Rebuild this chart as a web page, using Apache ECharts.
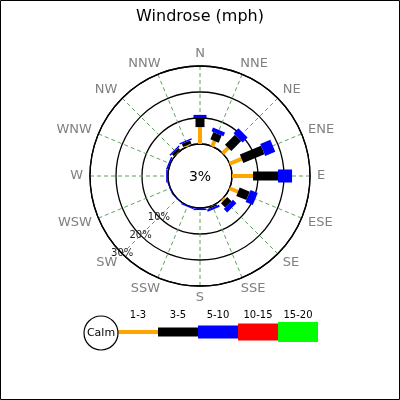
<!DOCTYPE html>
<html>
<head>
<meta charset="utf-8">
<script src="https://cdn.jsdelivr.net/npm/echarts@6/dist/echarts.min.js"></script>
<style>
  html, body { margin: 0; padding: 0; background: #fff; }
  #chart { width: 400px; height: 400px; }
</style>
</head>
<body>
<div id="chart"></div>
<script>
// wind directions, clockwise from north
const dirs = ["N", "NNE", "NE", "ENE", "E", "ESE", "SE", "SSE",
              "S", "SSW", "SW", "WSW", "W", "WNW", "NW", "NNW"];
// speed bins (mph)
const bins = ["1-3", "3-5", "5-10", "10-15", "15-20"];
// percent of time per direction, per speed bin
const pct1_3   = [6.5, 2.3, 3.0, 5.0, 8.1, 3.5, 0.8, 0.2, 0.0, 0.0, 0.0, 0.0, 0.0, 0.0, 0.2, 0.5];
const pct3_5   = [3.5, 3.0, 5.4, 8.8, 9.6, 4.2, 2.3, 0.5, 0.2, 0.0, 0.0, 0.0, 0.1, 0.2, 1.0, 1.3];
const pct5_10  = [1.2, 1.5, 2.7, 4.2, 5.4, 3.0, 1.9, 0.8, 0.6, 0.5, 0.2, 0.3, 0.6, 0.6, 0.6, 0.6];
const pct10_15 = [0, 0, 0, 0, 0, 0, 0, 0, 0, 0, 0, 0, 0, 0, 0, 0];
const pct15_20 = [0, 0, 0, 0, 0, 0, 0, 0, 0, 0, 0, 0, 0, 0, 0, 0];
const calmPct = 3;
const radiusTicks = [10, 20, 30];

const binData = [pct1_3, pct3_5, pct5_10, pct10_15, pct15_20];
const binColors = ["#FFA500", "#000000", "#0000FF", "#FF0000", "#00FF00"];
const binWidths = [4, 9, 13, 17, 20];
const font = "DejaVu Sans";
const rMax = 30;

const chart = echarts.init(document.getElementById("chart"));

// stacked segments: [end, angle, start]
const cum = dirs.map(() => 0);
const series = binData.map((vals, k) => {
  const data = vals.map((v, i) => {
    const start = cum[i];
    cum[i] += v;
    return [cum[i], i * 360 / dirs.length, start];
  });
  return {
    name: bins[k],
    type: "custom",
    coordinateSystem: "polar",
    polarIndex: 0,
    encode: { radius: 0, angle: 1 },
    data: data,
    renderItem: function (params, api) {
      const r1 = api.value(0), ang = api.value(1), r0 = api.value(2);
      if (r1 - r0 <= 0) return;
      const a = api.coord([r0, ang]);
      const b = api.coord([r1, ang]);
      const dx = b[0] - a[0], dy = b[1] - a[1];
      const len = Math.hypot(dx, dy);
      const w = binWidths[k] / 2;
      const nx = -dy / len * w, ny = dx / len * w;
      return {
        type: "polygon",
        shape: { points: [[a[0] + nx, a[1] + ny], [b[0] + nx, b[1] + ny],
                          [b[0] - nx, b[1] - ny], [a[0] - nx, a[1] - ny]] },
        style: { fill: binColors[k] }
      };
    }
  };
});

// legend drawn as graphics
const legend = [
  { type: "circle", shape: { cx: 101, cy: 333, r: 17 }, style: { fill: "#fff", stroke: "#000", lineWidth: 1.2 }, z: 10 },
  { type: "text", x: 101, y: 333, style: { text: "Calm", font: "11px " + font, fill: "#000", align: "center", verticalAlign: "middle" }, z: 11 }
];
bins.forEach((b, k) => {
  legend.push({
    type: "rect",
    shape: { x: 118 + k * 40, y: 332 - binWidths[k] / 2, width: 40, height: binWidths[k] },
    style: { fill: binColors[k] }, z: 9
  });
  legend.push({
    type: "text", x: 138 + k * 40, y: 315,
    style: { text: b, font: "10px " + font, fill: "#000", align: "center", verticalAlign: "middle" }
  });
});

chart.setOption({
  animation: false,
  title: {
    text: "Windrose (mph)",
    left: "center",
    top: 4,
    textStyle: { fontFamily: font, fontSize: 16, fontWeight: "normal", color: "#000" }
  },
  polar: [
    { center: [200, 176], radius: [32, 110] },
    { center: [200, 176], radius: [32, 110] }
  ],
  angleAxis: [
    {
      polarIndex: 0,
      type: "value",
      min: 0,
      max: 360,
      interval: 22.5,
      startAngle: 90,
      clockwise: true,
      axisLine: { show: true, lineStyle: { color: "#000", width: 1.3 } },
      axisTick: { show: false },
      axisLabel: { show: false },
      splitLine: { show: true, lineStyle: { color: "#5fa05f", type: [4, 3], width: 1 } }
    },
    {
      polarIndex: 1,
      type: "value",
      min: 0,
      max: 360,
      startAngle: 225,
      show: false
    }
  ],
  radiusAxis: [
    {
      polarIndex: 0,
      type: "value",
      min: 0,
      max: rMax,
      interval: 10,
      axisLine: { show: false },
      axisTick: { show: false },
      axisLabel: { show: false },
      splitLine: { show: true, lineStyle: { color: "#000", width: 1.3 } }
    },
    {
      polarIndex: 1,
      type: "value",
      min: 0,
      max: rMax,
      interval: 10,
      axisLine: { show: false },
      axisTick: { show: false },
      splitLine: { show: false },
      axisLabel: {
        margin: 0,
        rotate: 0,
        align: "center",
        verticalAlign: "middle",
        fontFamily: font,
        fontSize: 10,
        color: "#222",
        formatter: v => (radiusTicks.indexOf(v) >= 0 ? v + "%" : "")
      }
    }
  ],
  graphic: [
    { type: "rect", shape: { x: 0.5, y: 0.5, width: 399, height: 399 }, style: { fill: null, stroke: "#000", lineWidth: 1 }, z: 20 },
    { type: "text", x: 200, y: 177, style: { text: calmPct + "%", font: "14px " + font, fill: "#000", align: "center", verticalAlign: "middle" } }
  ].concat(legend),
  series: series
});

// direction labels, placed just outside the outer ring via the polar scale
const ctx = document.createElement("canvas").getContext("2d");
ctx.font = "13px " + font;
const dirLabels = dirs.map((d, i) => {
  const ang = i * 360 / dirs.length;
  const p0 = chart.convertToPixel({ polarIndex: 0 }, [0, ang]);
  const p1 = chart.convertToPixel({ polarIndex: 0 }, [rMax, ang]);
  const len = Math.hypot(p1[0] - p0[0], p1[1] - p0[1]);
  const ux = (p1[0] - p0[0]) / len, uy = (p1[1] - p0[1]) / len;
  const w = ctx.measureText(d).width;
  const sx = Math.sign(ux) * Math.min(1, 1.75 * Math.abs(ux));
  return {
    id: "dir" + i,
    type: "text",
    x: p1[0] + ux * 7 + sx * w / 2,
    y: p1[1] + uy * 12,
    style: { text: d, font: "13px " + font, fill: "#808080", align: "center", verticalAlign: "middle" }
  };
});
chart.setOption({ graphic: dirLabels });
</script>
</body>
</html>
